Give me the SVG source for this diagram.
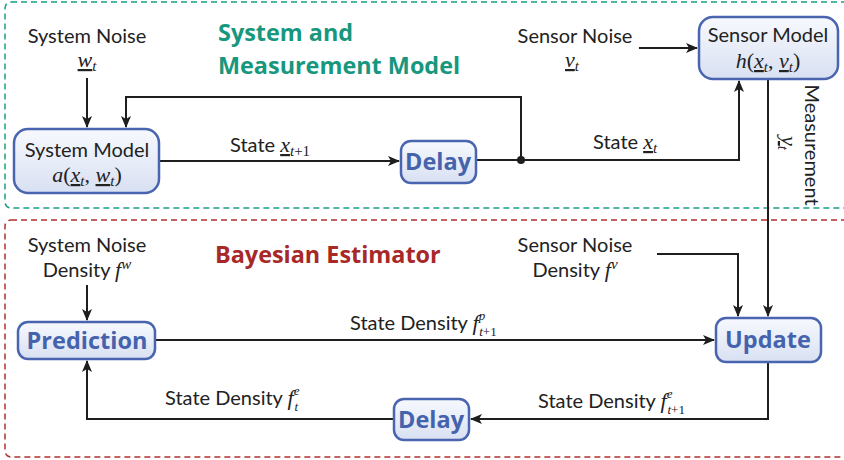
<svg xmlns="http://www.w3.org/2000/svg" width="844" height="460" viewBox="0 0 844 460">
<style>
.t{font-family:Lato,"Open Sans","DejaVu Sans",sans-serif;font-size:20px;fill:#222}
.m{font-family:"Liberation Serif","DejaVu Serif",serif;font-style:italic;font-size:22px;fill:#222}
.r{font-style:normal}
.s{font-size:15px}
.ss{font-size:13px}
.u{text-decoration:underline}
.nb{font-family:"Open Sans",Lato,sans-serif;font-weight:bold;font-size:23.5px;fill:#4563ad}
.box{fill:url(#g);stroke:#4a65af;stroke-width:2.5}
.wa{stroke:#1e1e1e;stroke-width:2;fill:none;marker-end:url(#ah)}
.ttl{font-family:"Open Sans",Lato,sans-serif;font-weight:bold;font-size:23.4px}
</style>
<defs>
<linearGradient id="g" x1="0" y1="0" x2="0" y2="1">
<stop offset="0" stop-color="#f7f9fe"/>
<stop offset="1" stop-color="#d8e0f2"/>
</linearGradient>
<marker id="ah" viewBox="0 0 12 10" refX="11" refY="5" markerWidth="12" markerHeight="10" markerUnits="userSpaceOnUse" orient="auto">
<path d="M0,0 L12,5 L0,10 L3,5 Z" fill="#1e1e1e"/>
</marker>
</defs>

<rect x="5" y="2" width="850" height="206" rx="6" fill="none" stroke="#1a9e88" stroke-width="1.5" stroke-dasharray="6,4"/>
<rect x="5" y="220" width="850" height="237" rx="6" fill="none" stroke="#b03232" stroke-width="1.5" stroke-dasharray="6,4"/>

<text class="ttl" x="218" y="41" fill="#16977e">System and</text>
<text class="ttl" x="218" y="74" fill="#16977e">Measurement Model</text>
<text class="ttl" x="215" y="263" fill="#a82828">Bayesian Estimator</text>

<g id="connectors">
<path class="wa" d="M87,78 V127"/>
<path class="wa" d="M521,160 V97 H126 V127"/>
<path class="wa" d="M159,161 H399"/>
<path class="wa" d="M476,160 H739 V81"/>
<circle cx="521" cy="160" r="4" fill="#1e1e1e"/>
<path class="wa" d="M639,48 H697"/>
<path class="wa" d="M768,79 V316"/>
<path class="wa" d="M657,254 H738 V316"/>
<path class="wa" d="M87,285 V320"/>
<path class="wa" d="M155,340 H714"/>
<path class="wa" d="M768,362 V419 H471"/>
<path class="wa" d="M394,419 H87 V361"/>
</g>

<g id="labels">
<text class="t" x="87" y="43" text-anchor="middle">System Noise</text>
<text class="m" x="87" y="67" text-anchor="middle"><tspan class="u">w</tspan><tspan class="s" dy="4">t</tspan></text>
<text class="t" x="230" y="152">State <tspan class="m u">x</tspan><tspan class="m s" dy="4">t</tspan><tspan class="m s r" >+1</tspan></text>
<text class="t" x="593" y="149">State <tspan class="m u">x</tspan><tspan class="m s" dy="4">t</tspan></text>
<text class="t" x="575" y="43" text-anchor="middle">Sensor Noise</text>
<text class="m" x="572" y="67" text-anchor="middle"><tspan class="u">v</tspan><tspan class="s" dy="4">t</tspan></text>
<text class="t" transform="translate(805,145) rotate(90)" text-anchor="middle">Measurement</text>
<text class="m" transform="translate(782,143) rotate(90)" text-anchor="middle"><tspan class="u">y</tspan><tspan class="s" dy="4">t</tspan></text>
<text class="t" x="87" y="252" text-anchor="middle">System Noise</text>
<text class="t" x="87" y="277" text-anchor="middle">Density <tspan class="m">f</tspan><tspan class="m s" dy="-8">w</tspan></text>
<text class="t" x="575" y="252" text-anchor="middle">Sensor Noise</text>
<text class="t" x="575" y="277" text-anchor="middle">Density <tspan class="m">f</tspan><tspan class="m s" dy="-8">v</tspan></text>
<text class="t" x="350" y="330">State Density <tspan class="m">f</tspan><tspan class="m ss" dy="-10">p</tspan><tspan class="m ss" dx="-6" dy="16">t</tspan><tspan class="m ss r">+1</tspan></text>
<text class="t" x="165" y="405">State Density <tspan class="m">f</tspan><tspan class="m ss" dy="-10">e</tspan><tspan class="m ss" dx="-5" dy="16">t</tspan></text>
<text class="t" x="538" y="408">State Density <tspan class="m">f</tspan><tspan class="m ss" dy="-10">e</tspan><tspan class="m ss" dx="-5" dy="16">t</tspan><tspan class="m ss r">+1</tspan></text>
</g>

<g id="system-model">
<rect class="box" x="14" y="129" width="145" height="64" rx="14"/>
<text class="t" x="87" y="157" text-anchor="middle">System Model</text>
<text class="m" x="87" y="182" text-anchor="middle">a<tspan class="r">(</tspan><tspan class="u">x</tspan><tspan class="s" dy="4">t</tspan><tspan class="r" dy="-4">, </tspan><tspan class="u">w</tspan><tspan class="s" dy="4">t</tspan><tspan class="r" dy="-4">)</tspan></text>
</g>
<g id="delay-top">
<rect class="box" x="401" y="141" width="75" height="42" rx="10"/>
<text class="nb" x="438" y="170" text-anchor="middle">Delay</text>
</g>
<g id="sensor-model">
<rect class="box" x="699" y="17" width="139" height="62" rx="14"/>
<text class="t" x="768" y="42" text-anchor="middle">Sensor Model</text>
<text class="m" x="768" y="68" text-anchor="middle">h<tspan class="r">(</tspan><tspan class="u">x</tspan><tspan class="s" dy="4">t</tspan><tspan class="r" dy="-4">, </tspan><tspan class="u">v</tspan><tspan class="s" dy="4">t</tspan><tspan class="r" dy="-4">)</tspan></text>
</g>
<g id="prediction">
<rect class="box" x="18" y="322" width="137" height="37" rx="10"/>
<text class="nb" x="87" y="349" text-anchor="middle">Prediction</text>
</g>
<g id="update">
<rect class="box" x="716" y="318" width="105" height="44" rx="10"/>
<text class="nb" x="768" y="348" text-anchor="middle">Update</text>
</g>
<g id="delay-bottom">
<rect class="box" x="394" y="399" width="75" height="41" rx="10"/>
<text class="nb" x="431" y="428" text-anchor="middle">Delay</text>
</g>
</svg>
